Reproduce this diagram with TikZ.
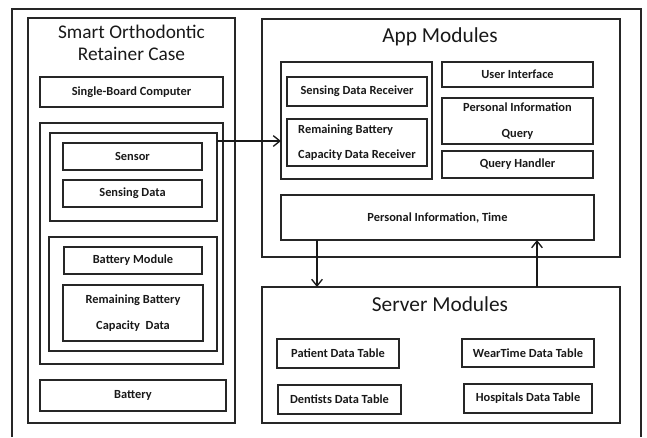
\documentclass[tikz,border=0pt]{standalone}
\usepackage{fontspec}
\setmainfont{Carlito}
\usetikzlibrary{arrows.meta,calc}
\newcommand\bx[7][]{%
  \node[box,#1,minimum width={(#5-#3)*0.75pt},minimum height={(#6-#4)*0.75pt}] (#2) at ({(#3+#5)/2},{(#4+#6)/2}) {#7};}
\tikzset{
  box/.style={draw=black!85,line width=1.2pt,inner sep=0pt,outer sep=0pt,font=\bfseries\fontsize{9.3}{11}\selectfont,text=black!90},
  twoline/.style={align=center,font=\bfseries\fontsize{9.3}{19}\selectfont},
  ttl/.style={font=\fontsize{16}{16}\selectfont,text=black!90,align=center,inner sep=0pt},
  arr/.style={line width=1.1pt,draw=black!90,-{Straight Barb[length=5pt,width=8pt,line width=1pt]}}
}
\begin{document}
\begin{tikzpicture}[x=0.75pt,y=-0.75pt]
\useasboundingbox (0,0) rectangle (647,437);
% outer frame (open at the bottom)
\draw[line width=1.2pt,black!85] (12,437) -- (12,9) -- (641,9) -- (641,437);
% Smart Orthodontic Retainer Case
\bx{case}{28}{18}{235}{423}{}
\node[ttl,font=\fontsize{14.5}{15}\selectfont] (casettl) at (131.5,43) {Smart Orthodontic\\[1.5pt]Retainer Case};
\bx{sbc}{40}{77}{223}{107}{Single-Board Computer}
\bx{inner}{40}{123}{223}{364}{}
\bx{sengrp}{50}{133}{217}{221}{}
\bx{sensor}{63}{143}{202}{170}{Sensor}
\bx{sdata}{63}{180}{202}{207}{Sensing Data}
\bx{batgrp}{49}{237}{217}{351}{}
\bx{batmod}{64}{247}{202}{274}{Battery Module}
\bx[twoline]{rbcd}{63}{285}{203}{341}{Remaining Battery\\Capacity~~Data}
\bx{battery}{40}{380}{226}{411}{Battery}
% App Modules
\bx{app}{262}{19}{620}{257}{}
\node[ttl] (appttl) at (440,37) {App Modules};
\bx{recvgrp}{281}{62}{432}{179}{}
\bx{sdr}{287}{77}{427}{106}{Sensing Data Receiver}
\bx[twoline,align=left]{rbcdr}{287}{119}{427}{166}{Remaining Battery\\Capacity Data Receiver}
\bx{ui}{442}{62}{593}{87}{User Interface}
\bx[twoline]{piq}{442}{98}{593}{144}{Personal Information\\Query}
\bx{qh}{442}{151}{593}{178}{Query Handler}
\bx{pit}{281}{195}{594}{240}{Personal Information, Time}
% Server Modules
\bx{server}{262}{287}{620}{423}{}
\node[ttl] (srvttl) at (440,304) {Server Modules};
\bx{patient}{277}{339}{399}{368}{Patient Data Table}
\bx{weartime}{462}{339}{594}{367}{WearTime Data Table}
\bx{dentists}{278}{385}{401}{414}{Dentists Data Table}
\bx{hospitals}{464}{384}{592}{413}{Hospitals Data Table}
% connectors
\coordinate (ay) at (0,141);
\coordinate (dx) at (317,0);
\coordinate (ux) at (537,0);
\draw[arr] (sengrp.east |- ay) -- (recvgrp.west |- ay);
\draw[arr] (pit.south -| dx) -- (server.north -| dx);
\draw[arr] (server.north -| ux) -- (pit.south -| ux);
\end{tikzpicture}
\end{document}
